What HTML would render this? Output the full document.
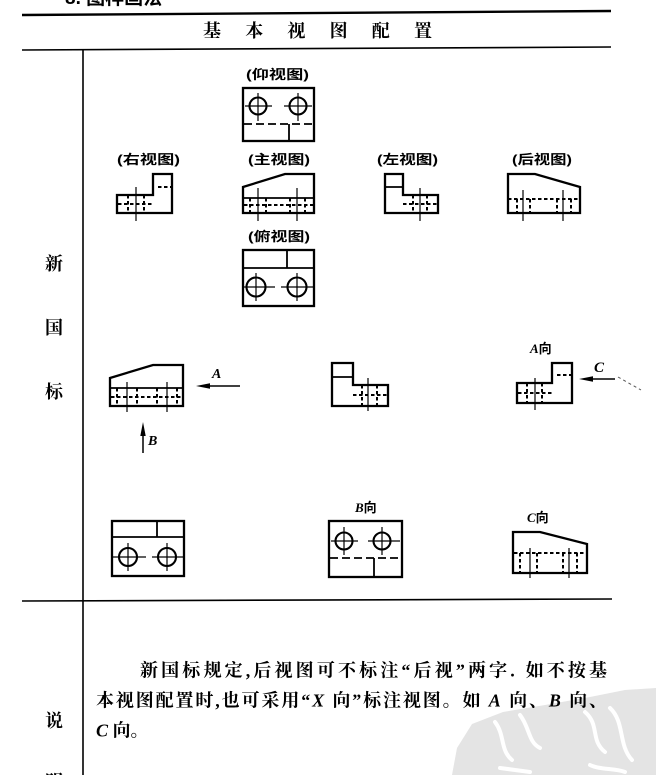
<!DOCTYPE html>
<html><head><meta charset="utf-8">
<style>
html,body{margin:0;padding:0;background:#fff;}
svg{display:block;}
.o{fill:none;stroke:#000;stroke-width:2.3;stroke-linejoin:miter}
.t{stroke:#000;stroke-width:1.8}
.c{stroke:#000;stroke-width:1.2}
.d{stroke:#000;stroke-width:2;stroke-dasharray:3.5 2.5}
.dl{stroke:#000;stroke-width:1.8;stroke-dasharray:8 4}
.ci{fill:none;stroke:#000;stroke-width:2.1}
.lbl{font-family:"Liberation Sans","Noto Sans CJK SC",sans-serif;font-weight:bold;font-size:13px;fill:#000}
.ser{font-family:"Liberation Serif","Noto Serif CJK SC",serif;font-weight:bold;fill:#000}
.it{font-family:"Liberation Serif",serif;font-style:italic;font-weight:bold;fill:#000}
</style></head>
<body>
<svg width="656" height="775" viewBox="0 0 656 775" xmlns="http://www.w3.org/2000/svg">
<!-- watermark -->
<path d="M452,775 L457,748 L472,724 L503,712 L545,705 L590,697 L625,690 L656,688 L656,775 Z" fill="#e4e4e4"/>
<g fill="none" stroke="#fff" stroke-width="4" stroke-linecap="round">
<path d="M495,722 C505,735 500,750 512,760"/>
<path d="M520,715 C530,728 528,742 540,748"/>
<path d="M500,768 L530,772"/>
<path d="M585,712 C600,725 590,740 605,752"/>
<path d="M610,708 C625,722 618,745 632,760"/>
<path d="M590,765 C600,770 615,768 625,772"/>
</g>

<!-- heading (cut off) -->
<text x="65" y="4" style="font-family:'Liberation Sans','Noto Sans CJK SC',sans-serif;font-weight:bold;font-size:19px">8. 图样画法</text>

<!-- table lines -->
<line x1="22" y1="15" x2="611" y2="11" stroke="#000" stroke-width="2.4"/>
<line x1="22" y1="50" x2="611" y2="47" stroke="#000" stroke-width="1.6"/>
<line x1="83" y1="49" x2="83" y2="775" stroke="#000" stroke-width="1.6"/>
<line x1="22" y1="601" x2="612" y2="599" stroke="#000" stroke-width="1.6"/>

<!-- title -->
<text class="ser" x="203" y="37" font-size="18" textLength="229" lengthAdjust="spacing">基本视图配置</text>

<!-- left column -->
<text class="ser" x="45" y="270" font-size="18">新</text>
<text class="ser" x="45" y="334" font-size="18">国</text>
<text class="ser" x="45" y="398" font-size="18">标</text>
<text class="ser" x="45" y="727" font-size="18">说</text>
<text class="ser" x="45" y="788" font-size="18">明</text>

<!-- labels -->
<text class="lbl" x="246" y="79" textLength="63" lengthAdjust="spacingAndGlyphs">(仰视图)</text>
<text class="lbl" x="117" y="164" textLength="63" lengthAdjust="spacingAndGlyphs">(右视图)</text>
<text class="lbl" x="248" y="164" textLength="62" lengthAdjust="spacingAndGlyphs">(主视图)</text>
<text class="lbl" x="377" y="164" textLength="61" lengthAdjust="spacingAndGlyphs">(左视图)</text>
<text class="lbl" x="512" y="164" textLength="60" lengthAdjust="spacingAndGlyphs">(后视图)</text>
<text class="lbl" x="248" y="241" textLength="62" lengthAdjust="spacingAndGlyphs">(俯视图)</text>

<!-- 仰视图 -->
<rect class="o" x="243" y="88" width="71" height="53"/>
<circle class="ci" cx="258" cy="106" r="8.5"/>
<circle class="ci" cx="298" cy="106" r="8.5"/>
<line class="c" x1="245" y1="106" x2="272" y2="106"/>
<line class="c" x1="284" y1="106" x2="312" y2="106"/>
<line class="c" x1="258" y1="93" x2="258" y2="121"/>
<line class="c" x1="298" y1="93" x2="298" y2="121"/>
<line class="dl" x1="244" y1="124" x2="313" y2="124"/>
<line class="t" x1="289" y1="124" x2="289" y2="141"/>

<!-- 右视图 -->
<polygon class="o" points="117,195 153,195 153,174 172,174 172,213 117,213"/>
<line class="d" x1="158" y1="187" x2="172" y2="187"/>
<line class="d" x1="128" y1="195" x2="128" y2="213"/>
<line class="d" x1="144" y1="195" x2="144" y2="213"/>
<line class="d" x1="118" y1="204" x2="153" y2="204"/>
<line class="c" x1="136" y1="187" x2="136" y2="221"/>

<!-- 主视图 -->
<polygon class="o" points="243,187 285,174 314,174 314,213 243,213"/>
<line class="t" x1="243" y1="198" x2="314" y2="198"/>
<line class="d" x1="244" y1="205" x2="313" y2="205"/>
<line class="d" x1="250" y1="198" x2="250" y2="213"/>
<line class="d" x1="266" y1="198" x2="266" y2="213"/>
<line class="d" x1="290" y1="198" x2="290" y2="213"/>
<line class="d" x1="305" y1="198" x2="305" y2="213"/>
<line class="c" x1="258" y1="188" x2="258" y2="221"/>
<line class="c" x1="297" y1="188" x2="297" y2="221"/>

<!-- 左视图 -->
<polygon class="o" points="385,174 403,174 403,195 438,195 438,213 385,213"/>
<line class="t" x1="385" y1="187" x2="403" y2="187"/>
<line class="d" x1="403" y1="204" x2="438" y2="204"/>
<line class="d" x1="413" y1="195" x2="413" y2="213"/>
<line class="d" x1="427" y1="195" x2="427" y2="213"/>
<line class="c" x1="420" y1="188" x2="420" y2="221"/>

<!-- 后视图 -->
<polygon class="o" points="508,174 535,174 580,187 580,213 508,213"/>
<line class="d" x1="508" y1="199" x2="580" y2="199"/>
<line class="d" x1="517" y1="199" x2="517" y2="213"/>
<line class="d" x1="530" y1="199" x2="530" y2="213"/>
<line class="d" x1="557" y1="199" x2="557" y2="213"/>
<line class="d" x1="571" y1="199" x2="571" y2="213"/>
<line class="c" x1="523" y1="190" x2="523" y2="221"/>
<line class="c" x1="563" y1="190" x2="563" y2="221"/>

<!-- 俯视图 -->
<rect class="o" x="243" y="250" width="71" height="56"/>
<line class="t" x1="243" y1="268" x2="314" y2="268"/>
<line class="t" x1="287" y1="250" x2="287" y2="268"/>
<circle class="ci" cx="256" cy="287" r="9.5"/>
<circle class="ci" cx="297" cy="287" r="9.5"/>
<line class="c" x1="243" y1="287" x2="275" y2="287"/>
<line class="c" x1="281" y1="287" x2="314" y2="287"/>
<line class="c" x1="256" y1="273" x2="256" y2="301"/>
<line class="c" x1="297" y1="273" x2="297" y2="301"/>

<!-- Row 2: front view with A, B arrows -->
<polygon class="o" points="110,378 153,365 183,365 183,406 110,406"/>
<line class="t" x1="110" y1="388" x2="183" y2="388"/>
<line class="d" x1="111" y1="397" x2="182" y2="397"/>
<line class="d" x1="117" y1="388" x2="117" y2="406"/>
<line class="d" x1="137" y1="388" x2="137" y2="406"/>
<line class="d" x1="157" y1="388" x2="157" y2="406"/>
<line class="d" x1="177" y1="388" x2="177" y2="406"/>
<line class="c" x1="127" y1="382" x2="127" y2="412"/>
<line class="c" x1="167" y1="382" x2="167" y2="412"/>

<line x1="204" y1="386" x2="240" y2="386" stroke="#000" stroke-width="1.5"/>
<polygon points="196,386 210,383.3 210,388.7" fill="#000"/>
<text class="it" x="212" y="378" font-size="14">A</text>

<line x1="143" y1="430" x2="143" y2="453" stroke="#000" stroke-width="1.5"/>
<polygon points="143,422 140.3,436 145.7,436" fill="#000"/>
<text class="it" x="148" y="445" font-size="14">B</text>

<!-- Row 2: left view middle -->
<polygon class="o" points="332,363 353,363 353,385 388,385 388,406 332,406"/>
<line class="t" x1="332" y1="377" x2="353" y2="377"/>
<line class="d" x1="353" y1="395" x2="388" y2="395"/>
<line class="d" x1="362" y1="385" x2="362" y2="406"/>
<line class="d" x1="377" y1="385" x2="377" y2="406"/>
<line class="c" x1="368" y1="378" x2="368" y2="411"/>

<!-- Row 2: A向 right view -->
<text x="530" y="353" font-size="13"><tspan class="it">A</tspan><tspan class="lbl">向</tspan></text>
<polygon class="o" points="517,383 552,383 552,363 572,363 572,403 517,403"/>
<line class="d" x1="557" y1="375" x2="572" y2="375"/>
<line class="d" x1="518" y1="393" x2="552" y2="393"/>
<line class="d" x1="527" y1="383" x2="527" y2="403"/>
<line class="d" x1="542" y1="383" x2="542" y2="403"/>
<line class="c" x1="535" y1="378" x2="535" y2="410"/>

<line x1="587" y1="379" x2="615" y2="379" stroke="#000" stroke-width="1.6"/>
<polygon points="579,379 593,376.3 593,381.7" fill="#000"/>
<text class="it" x="594" y="372" font-size="15">C</text>
<line x1="618" y1="377" x2="641" y2="390" stroke="#555" stroke-width="1" stroke-dasharray="3 3"/>

<!-- Row 3: top view -->
<rect class="o" x="112" y="521" width="72" height="55"/>
<line class="t" x1="112" y1="537" x2="184" y2="537"/>
<line class="t" x1="157" y1="521" x2="157" y2="537"/>
<circle class="ci" cx="128" cy="557" r="9"/>
<circle class="ci" cx="167" cy="557" r="9"/>
<line class="c" x1="112" y1="557" x2="146" y2="557"/>
<line class="c" x1="152" y1="557" x2="184" y2="557"/>
<line class="c" x1="128" y1="543" x2="128" y2="571"/>
<line class="c" x1="167" y1="543" x2="167" y2="571"/>

<!-- Row 3: B向 -->
<text x="355" y="512" font-size="13"><tspan class="it">B</tspan><tspan class="lbl">向</tspan></text>
<rect class="o" x="329" y="521" width="73" height="56"/>
<circle class="ci" cx="344" cy="541" r="8.5"/>
<circle class="ci" cx="382" cy="541" r="8.5"/>
<line class="c" x1="331" y1="541" x2="358" y2="541"/>
<line class="c" x1="368" y1="541" x2="400" y2="541"/>
<line class="c" x1="344" y1="527" x2="344" y2="555"/>
<line class="c" x1="382" y1="527" x2="382" y2="555"/>
<line class="dl" x1="330" y1="558" x2="401" y2="558"/>
<line class="t" x1="374" y1="558" x2="374" y2="577"/>

<!-- Row 3: C向 -->
<text x="527" y="522" font-size="13"><tspan class="it">C</tspan><tspan class="lbl">向</tspan></text>
<polygon class="o" points="513,532 540,532 587,544 587,573 513,573"/>
<line class="d" x1="514" y1="553" x2="586" y2="553"/>
<line class="d" x1="520" y1="553" x2="520" y2="573"/>
<line class="d" x1="537" y1="553" x2="537" y2="573"/>
<line class="d" x1="563" y1="553" x2="563" y2="573"/>
<line class="d" x1="577" y1="553" x2="577" y2="573"/>
<line class="c" x1="530" y1="548" x2="530" y2="578"/>
<line class="c" x1="569" y1="548" x2="569" y2="578"/>

<!-- paragraph -->
<text class="ser" x="140" y="676.5" font-size="18" textLength="467" lengthAdjust="spacing">新国标规定,后视图可不标注“后视”两字. 如不按基</text>
<text class="ser" x="96" y="706.5" font-size="18" textLength="511" lengthAdjust="spacing">本视图配置时,也可采用“<tspan class="it">X</tspan> 向”标注视图。如 <tspan class="it">A</tspan> 向、<tspan class="it">B</tspan> 向、</text>
<text class="ser" x="96" y="736.5" font-size="18"><tspan class="it">C</tspan> 向。</text>
</svg>
</body></html>
